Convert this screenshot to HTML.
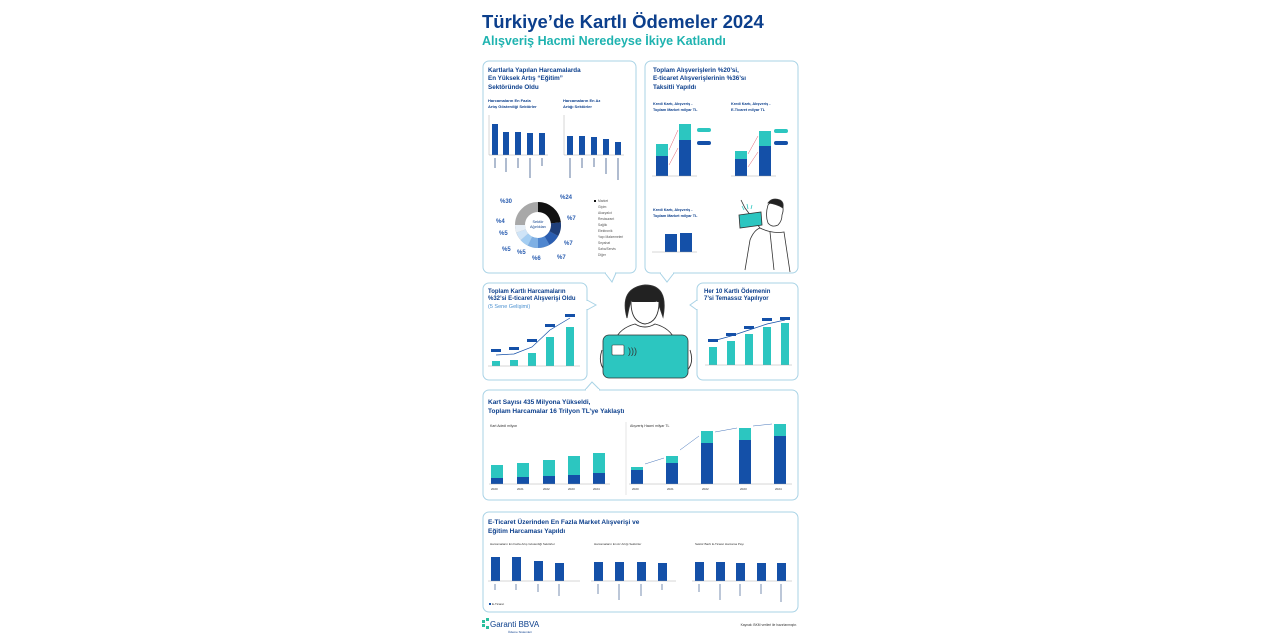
<!DOCTYPE html>
<html><head><meta charset="utf-8"><style>
html,body{margin:0;padding:0;background:#fff;width:1280px;height:640px;overflow:hidden}
svg text{font-family:"Liberation Sans",sans-serif}
</style></head><body>
<svg width="1280" height="640" viewBox="0 0 1280 640" xmlns="http://www.w3.org/2000/svg">
<rect width="1280" height="640" fill="#fff"/>
<text x="482" y="28" font-size="18.5" font-weight="bold" fill="#0c3f8c">Türkiye’de Kartlı Ödemeler 2024</text>
<text x="482" y="45" font-size="12.5" font-weight="bold" fill="#1fb3b0">Alışveriş Hacmi Neredeyse İkiye Katlandı</text>

<g fill="none" stroke="#a9d3e6" stroke-width="1">
<rect x="483" y="61" width="153" height="212" rx="6"/>
<rect x="645" y="61" width="153" height="212" rx="6"/>
<rect x="483" y="283" width="104" height="97" rx="6"/>
<rect x="697" y="283" width="101" height="97" rx="6"/>
<rect x="483" y="390" width="315" height="110" rx="6"/>
<rect x="483" y="512" width="315" height="100" rx="6"/>
<path d="M605 273 L612 282 L616 273"/><path d="M660 273 L667 282 L674 273"/>
<path d="M587 300 L596 305 L587 310"/><path d="M697 300 L690 305 L697 310"/>
<path d="M585 390 L592 382 L600 390"/>
</g>
<g fill="#fff"><rect x="606" y="272" width="9" height="2"/><rect x="661" y="272" width="12" height="2"/><rect x="586" y="301" width="2" height="8"/><rect x="696" y="301" width="2" height="8"/><rect x="586" y="389" width="13" height="2"/></g>

<!-- Panel 1 -->
<g font-weight="bold" fill="#0c3f8c" font-size="6.3">
<text x="488" y="72">Kartlarla Yapılan Harcamalarda</text>
<text x="488" y="80">En Yüksek Artış “Eğitim”</text>
<text x="488" y="89">Sektöründe Oldu</text>
</g>
<g font-size="4" font-weight="bold" fill="#0c3f8c">
<text x="488" y="102">Harcamaların En Fazla</text><text x="488" y="108">Artış Gösterdiği Sektörler</text>
<text x="563" y="102">Harcamaların En Az</text><text x="563" y="108">Artığı Sektörler</text>
</g>
<g fill="#1450a8">
<rect x="492" y="124" width="6" height="31"/><rect x="503" y="132" width="6" height="23"/><rect x="515" y="132" width="6" height="23"/><rect x="527" y="133" width="6" height="22"/><rect x="539" y="133" width="6" height="22"/>
<rect x="567" y="136" width="6" height="19"/><rect x="579" y="136" width="6" height="19"/><rect x="591" y="137" width="6" height="18"/><rect x="603" y="139" width="6" height="16"/><rect x="615" y="142" width="6" height="13"/>
</g>
<g stroke="#999" stroke-width=".4"><line x1="489" y1="155" x2="548" y2="155"/><line x1="564" y1="155" x2="624" y2="155"/><line x1="489" y1="115" x2="489" y2="155"/><line x1="564" y1="115" x2="564" y2="155"/></g>
<g stroke="#7a8fb0" stroke-width="1.2">
<line x1="495" y1="158" x2="495" y2="168"/><line x1="506" y1="158" x2="506" y2="172"/><line x1="518" y1="158" x2="518" y2="168"/><line x1="530" y1="158" x2="530" y2="178"/><line x1="542" y1="158" x2="542" y2="166"/>
<line x1="570" y1="158" x2="570" y2="178"/><line x1="582" y1="158" x2="582" y2="168"/><line x1="594" y1="158" x2="594" y2="167"/><line x1="606" y1="158" x2="606" y2="174"/><line x1="618" y1="158" x2="618" y2="180"/>
</g>
<g transform="translate(538,225)" fill="none" stroke-width="10">
<circle r="18" stroke="#a8a8a8"/>
<path d="M0 -18 A18 18 0 0 1 17.9 -2.2" stroke="#111"/>
<path d="M17.9 -2.2 A18 18 0 0 1 15.8 8.6" stroke="#1f3f7a"/>
<path d="M15.8 8.6 A18 18 0 0 1 9 15.6" stroke="#2a5db0"/>
<path d="M9 15.6 A18 18 0 0 1 0 18" stroke="#4f86cf"/>
<path d="M0 18 A18 18 0 0 1 -8 16.1" stroke="#7fb0e4"/>
<path d="M-8 16.1 A18 18 0 0 1 -13.6 11.8" stroke="#a3cdf2"/>
<path d="M-13.6 11.8 A18 18 0 0 1 -17 6" stroke="#cfe4f7"/>
<path d="M-17 6 A18 18 0 0 1 -18 0" stroke="#e6eef6"/>
</g>
<text x="538" y="223" font-size="3.8" text-anchor="middle" fill="#0c3f8c">Sektör</text>
<text x="538" y="228" font-size="3.8" text-anchor="middle" fill="#0c3f8c">Ağırlıkları</text>
<g font-size="6" font-weight="bold" fill="#2a5db0">
<text x="560" y="199">%24</text><text x="567" y="220">%7</text><text x="564" y="245">%7</text><text x="557" y="259">%7</text><text x="532" y="260">%6</text><text x="517" y="254">%5</text><text x="502" y="251">%5</text><text x="499" y="235">%5</text><text x="496" y="223">%4</text><text x="500" y="203">%30</text>
</g>
<g font-size="3.3" fill="#555">
<rect x="594" y="200" width="2" height="2" fill="#111"/><text x="598" y="202">Market</text>
<text x="598" y="208">Giyim</text><text x="598" y="214">Akaryakıt</text><text x="598" y="220">Restaurant</text><text x="598" y="226">Sağlık</text><text x="598" y="232">Elektronik</text><text x="598" y="238">Yapı Malzemeleri</text><text x="598" y="244">Seyahat</text><text x="598" y="250">Saha/Servis</text><text x="598" y="256">Diğer</text>
</g>

<!-- Panel 2 -->
<g font-weight="bold" fill="#0c3f8c" font-size="6.3">
<text x="653" y="72">Toplam Alışverişlerin %20’si,</text>
<text x="653" y="80">E-ticaret Alışverişlerinin %36’sı</text>
<text x="653" y="89">Taksitli Yapıldı</text>
</g>
<g font-size="3.8" font-weight="bold" fill="#0c3f8c">
<text x="653" y="105">Kredi Kartı, Alışveriş -</text><text x="653" y="111">Toplam Market milyar TL</text>
<text x="731" y="105">Kredi Kartı, Alışveriş -</text><text x="731" y="111">E-Ticaret milyar TL</text>
<text x="653" y="211">Kredi Kartı, Alışveriş -</text><text x="653" y="217">Toplam Market milyar TL</text>
</g>
<g fill="#2cc6c0"><rect x="656" y="144" width="12" height="12"/><rect x="679" y="124" width="12" height="16"/><rect x="735" y="151" width="12" height="8"/><rect x="759" y="131" width="12" height="15"/>
<rect x="697" y="128" width="14" height="4" rx="2"/><rect x="774" y="129" width="14" height="4" rx="2"/></g>
<g fill="#1450a8"><rect x="656" y="156" width="12" height="20"/><rect x="679" y="140" width="12" height="36"/><rect x="735" y="159" width="12" height="17"/><rect x="759" y="146" width="12" height="30"/>
<rect x="697" y="141" width="14" height="4" rx="2"/><rect x="774" y="141" width="14" height="4" rx="2"/>
<rect x="665" y="234" width="12" height="18"/><rect x="680" y="233" width="12" height="19"/></g>
<g stroke="#999" stroke-width=".4"><line x1="652" y1="176" x2="697" y2="176"/><line x1="731" y1="176" x2="776" y2="176"/><line x1="652" y1="252" x2="697" y2="252"/></g>
<g stroke="#e06070" stroke-width=".5"><line x1="669" y1="150" x2="678" y2="130"/><line x1="669" y1="165" x2="678" y2="148"/><line x1="748" y1="154" x2="758" y2="136"/><line x1="748" y1="167" x2="758" y2="152"/></g>
<g fill="none" stroke="#333" stroke-width=".8">
<path d="M768 205 q5 -6 12 -2 q5 4 2 12 q0 6 -4 10 q-6 3 -10 -2 q-3 -8 0 -18z" fill="#fff"/>
<path d="M768 203 q4 -6 12 -3 q4 2 3 8 q-6 -4 -15 -5z" fill="#222"/>
<path d="M760 228 q12 6 24 4 l6 40"/><path d="M745 270 l5 -30 q4 -10 10 -12"/>
<path d="M760 228 l-15 -20 l-4 -8"/><path d="M770 232 l4 38"/>
<path d="M739 215 l22 -3 l1 13 l-22 3z" fill="#2cc6c0"/>
</g>
<g stroke="#2cc6c0" stroke-width=".8"><line x1="742" y1="206" x2="744" y2="210"/><line x1="747" y1="204" x2="748" y2="209"/><line x1="752" y1="205" x2="751" y2="209"/></g>

<!-- Panel 3 -->
<g font-weight="bold" fill="#0c3f8c" font-size="6">
<text x="488" y="293">Toplam Kartlı Harcamaların</text><text x="488" y="300">%32’si E-ticaret Alışverişi Oldu</text>
</g>
<text x="488" y="308" font-size="5.5" fill="#4a90d0">(5 Sene Gelişimi)</text>
<g fill="#2cc6c0"><rect x="492" y="361" width="8" height="5"/><rect x="510" y="360" width="8" height="6"/><rect x="528" y="353" width="8" height="13"/><rect x="546" y="337" width="8" height="29"/><rect x="566" y="327" width="8" height="39"/></g>
<polyline points="496,355 514,354 532,347 550,330 570,318" fill="none" stroke="#1450a8" stroke-width=".7"/>
<g fill="#1450a8"><rect x="491" y="349" width="10" height="3"/><rect x="509" y="347" width="10" height="3"/><rect x="527" y="339" width="10" height="3"/><rect x="545" y="324" width="10" height="3"/><rect x="565" y="314" width="10" height="3"/></g>
<line x1="488" y1="366" x2="580" y2="366" stroke="#999" stroke-width=".4"/>
<!-- Panel 4 -->
<g font-weight="bold" fill="#0c3f8c" font-size="6"><text x="704" y="293">Her 10 Kartlı Ödemenin</text><text x="704" y="300">7’si Temassız Yapılıyor</text></g>
<g fill="#2cc6c0"><rect x="709" y="347" width="8" height="18"/><rect x="727" y="341" width="8" height="24"/><rect x="745" y="334" width="8" height="31"/><rect x="763" y="327" width="8" height="38"/><rect x="781" y="323" width="8" height="42"/></g>
<polyline points="713,341 731,336 749,330 767,324 785,320" fill="none" stroke="#1450a8" stroke-width=".7"/>
<g fill="#1450a8"><rect x="708" y="339" width="10" height="3"/><rect x="726" y="333" width="10" height="3"/><rect x="744" y="326" width="10" height="3"/><rect x="762" y="318" width="10" height="3"/><rect x="780" y="317" width="10" height="3"/></g>
<line x1="705" y1="365" x2="792" y2="365" stroke="#999" stroke-width=".4"/>

<g fill="none" stroke="#333" stroke-width=".9">
<path d="M627 318 q-8 -30 18 -33 q24 0 18 32 q-4 -12 -6 -16 q-14 6 -26 0 q-2 6 -4 17z" fill="#222"/>
<path d="M631 302 q0 20 14 22 q14 -2 14 -22" fill="#fff"/>
<path d="M615 340 q5 -12 20 -16 q10 6 20 0 q15 4 20 16"/>
<path d="M602 350 q-6 18 10 25"/><path d="M690 350 q6 18 -10 25"/>
</g>
<rect x="603" y="335" width="85" height="43" rx="6" fill="#2cc6c0" stroke="#333" stroke-width=".8"/>
<rect x="612" y="345" width="12" height="10" rx="1" fill="#fff" stroke="#333" stroke-width=".6"/>
<text x="628" y="354" font-size="9" fill="#333">)))</text>

<!-- Panel 5 -->
<g font-weight="bold" fill="#0c3f8c" font-size="6.5"><text x="488" y="404">Kart Sayısı 435 Milyona Yükseldi,</text><text x="488" y="413">Toplam Harcamalar 16 Trilyon TL’ye Yaklaştı</text></g>
<text x="490" y="427" font-size="3.5" fill="#333">Kart Adedi milyon</text><text x="630" y="427" font-size="3.5" fill="#333">Alışveriş Hacmi milyar TL</text>
<line x1="626" y1="422" x2="626" y2="495" stroke="#ccc" stroke-width=".5"/>
<g fill="#2cc6c0"><rect x="491" y="465" width="12" height="13"/><rect x="517" y="463" width="12" height="14"/><rect x="543" y="460" width="12" height="16"/><rect x="568" y="456" width="12" height="19"/><rect x="593" y="453" width="12" height="20"/>
<rect x="631" y="467" width="12" height="3"/><rect x="666" y="456" width="12" height="7"/><rect x="701" y="431" width="12" height="12"/><rect x="739" y="428" width="12" height="12"/><rect x="774" y="424" width="12" height="12"/></g>
<g fill="#1450a8"><rect x="491" y="478" width="12" height="6"/><rect x="517" y="477" width="12" height="7"/><rect x="543" y="476" width="12" height="8"/><rect x="568" y="475" width="12" height="9"/><rect x="593" y="473" width="12" height="11"/>
<rect x="631" y="470" width="12" height="14"/><rect x="666" y="463" width="12" height="21"/><rect x="701" y="443" width="12" height="41"/><rect x="739" y="440" width="12" height="44"/><rect x="774" y="436" width="12" height="48"/></g>
<g stroke="#999" stroke-width=".4"><line x1="489" y1="484" x2="610" y2="484"/><line x1="629" y1="484" x2="792" y2="484"/></g>
<g stroke="#1450a8" stroke-width=".4"><line x1="645" y1="464" x2="664" y2="458"/><line x1="680" y1="450" x2="699" y2="436"/><line x1="715" y1="432" x2="737" y2="428"/><line x1="753" y1="426" x2="772" y2="424"/></g>
<g font-size="3" fill="#333"><text x="491" y="490">2020</text><text x="517" y="490">2021</text><text x="543" y="490">2022</text><text x="568" y="490">2023</text><text x="593" y="490">2024</text>
<text x="632" y="490">2020</text><text x="667" y="490">2021</text><text x="702" y="490">2022</text><text x="740" y="490">2023</text><text x="775" y="490">2024</text></g>

<!-- Panel 6 -->
<g font-weight="bold" fill="#0c3f8c" font-size="6.5"><text x="488" y="524">E-Ticaret Üzerinden En Fazla Market Alışverişi ve</text><text x="488" y="533">Eğitim Harcaması Yapıldı</text></g>
<g font-size="3" fill="#333"><text x="490" y="545">Harcamaların En Fazla Artış Gösterdiği Sektörler</text><text x="594" y="545">Harcamaların En Az Artığı Sektörler</text><text x="695" y="545">Sektör Bazlı E-Ticaret Harcama Payı</text></g>
<g fill="#1450a8">
<rect x="491" y="557" width="9" height="24"/><rect x="512" y="557" width="9" height="24"/><rect x="534" y="561" width="9" height="20"/><rect x="555" y="563" width="9" height="18"/>
<rect x="594" y="562" width="9" height="19"/><rect x="615" y="562" width="9" height="19"/><rect x="637" y="562" width="9" height="19"/><rect x="658" y="563" width="9" height="18"/>
<rect x="695" y="562" width="9" height="19"/><rect x="716" y="562" width="9" height="19"/><rect x="736" y="563" width="9" height="18"/><rect x="757" y="563" width="9" height="18"/><rect x="777" y="563" width="9" height="18"/>
</g>
<g stroke="#999" stroke-width=".4"><line x1="488" y1="581" x2="580" y2="581"/><line x1="591" y1="581" x2="676" y2="581"/><line x1="692" y1="581" x2="792" y2="581"/></g>
<g stroke="#7a8fb0" stroke-width="1"><line x1="495" y1="584" x2="495" y2="590"/><line x1="516" y1="584" x2="516" y2="590"/><line x1="538" y1="584" x2="538" y2="592"/><line x1="559" y1="584" x2="559" y2="596"/>
<line x1="598" y1="584" x2="598" y2="594"/><line x1="619" y1="584" x2="619" y2="600"/><line x1="641" y1="584" x2="641" y2="596"/><line x1="662" y1="584" x2="662" y2="590"/>
<line x1="699" y1="584" x2="699" y2="592"/><line x1="720" y1="584" x2="720" y2="600"/><line x1="740" y1="584" x2="740" y2="596"/><line x1="761" y1="584" x2="761" y2="594"/><line x1="781" y1="584" x2="781" y2="602"/></g>
<rect x="489" y="603" width="2" height="2" fill="#1450a8"/><text x="492" y="605" font-size="3" fill="#333">E-Ticaret</text>

<g fill="#2cbf9e"><rect x="482" y="620" width="3" height="3"/><rect x="482" y="624" width="3" height="3"/><rect x="486" y="618" width="3" height="3"/><rect x="486" y="626" width="3" height="3"/></g>
<text x="490" y="627" font-size="8" fill="#0c3f8c">Garanti BBVA</text>
<text x="508" y="633" font-size="3" fill="#0c3f8c">Ödeme Sistemleri</text>
<text x="797" y="626" font-size="3.3" fill="#333" text-anchor="end">Kaynak: BKM verileri ile hazırlanmıştır.</text>
</svg>
</body></html>
